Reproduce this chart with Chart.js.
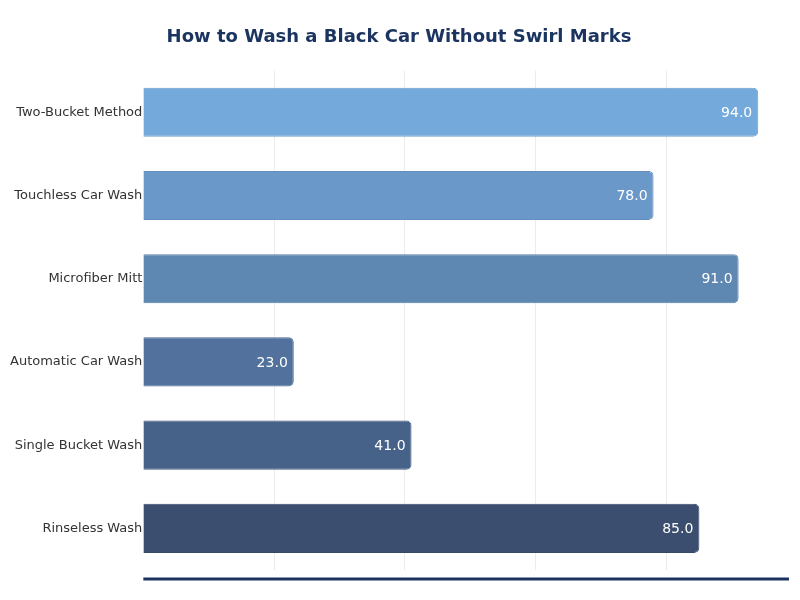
<!DOCTYPE html>
<html>
<head>
<meta charset="utf-8">
<script src="https://cdn.jsdelivr.net/npm/chart.js@4.4.1/dist/chart.umd.min.js"></script>
<style>
  html, body { margin: 0; padding: 0; background: #ffffff; }
  #wrap { width: 800px; height: 600px; }
</style>
</head>
<body>
<div id="wrap"><canvas id="washChart"></canvas></div>
<script>
// Data
const methods = [
  "Two-Bucket Method",
  "Touchless Car Wash",
  "Microfiber Mitt",
  "Automatic Car Wash",
  "Single Bucket Wash",
  "Rinseless Wash"
];
const scores = [94, 78, 91, 23, 41, 85];
const gridStep = 20;

// Bar colours, light to dark
const barColors = ["#74a9db", "#6a98c8", "#5e87b1", "#52729d", "#466289", "#3c4e70"];
const barBorders = ["#6b9fd2", "#628fbf", "#577fa8", "#4b6b95", "#405b81", "#364868"];

// value text at the end of each bar
const valueLabels = {
  id: "valueLabels",
  afterDatasetsDraw(chart) {
    const ctx = chart.ctx;
    const meta = chart.getDatasetMeta(0);
    ctx.save();
    ctx.font = "14px 'DejaVu Sans'";
    ctx.fillStyle = "#ffffff";
    ctx.textAlign = "right";
    ctx.textBaseline = "middle";
    meta.data.forEach((bar, i) => {
      ctx.fillText(scores[i].toFixed(1), bar.x - 6, bar.y + 1);
    });
    ctx.restore();
  }
};

// thick base line under the plot
const baseLine = {
  id: "baseLine",
  afterDraw(chart) {
    const { ctx, chartArea } = chart;
    ctx.save();
    ctx.strokeStyle = "#1b3560";
    ctx.lineWidth = 3;
    ctx.beginPath();
    ctx.moveTo(chartArea.left, chartArea.bottom + 9);
    ctx.lineTo(chartArea.right, chartArea.bottom + 9);
    ctx.stroke();
    ctx.restore();
  }
};

new Chart(document.getElementById("washChart"), {
  type: "bar",
  data: {
    labels: methods,
    datasets: [{
      data: scores,
      backgroundColor: barColors,
      borderColor: barBorders,
      borderWidth: 1,
      borderRadius: 5,
      borderSkipped: "start",
      categoryPercentage: 1,
      barPercentage: 0.59
    }]
  },
  options: {
    indexAxis: "y",
    responsive: true,
    maintainAspectRatio: false,
    animation: false,
    layout: { padding: { left: 9, right: 11, top: 0, bottom: 30 } },
    plugins: {
      legend: { display: false },
      tooltip: { enabled: false },
      title: {
        display: true,
        text: "How to Wash a Black Car Without Swirl Marks",
        color: "#1b3560",
        font: { family: "'DejaVu Sans'", size: 18, weight: "bold" },
        padding: { top: 27, bottom: 22 }
      }
    },
    scales: {
      x: {
        min: 0,
        max: Math.max(...scores) * 1.05,
        ticks: { display: false, stepSize: gridStep },
        afterBuildTicks: axis => {
          axis.ticks = axis.ticks.filter(t => t.value > 0 && t.value % gridStep === 0);
        },
        grid: { color: "#ececec", lineWidth: 1, drawTicks: false },
        border: { display: false }
      },
      y: {
        grid: { display: false, drawTicks: false },
        border: { display: false },
        ticks: {
          color: "#333333",
          padding: 1,
          font: { family: "'DejaVu Sans'", size: 13 }
        }
      }
    }
  },
  plugins: [valueLabels, baseLine]
});
</script>
</body>
</html>
